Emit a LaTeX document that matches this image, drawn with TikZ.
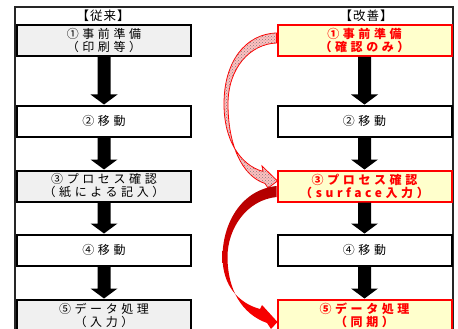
\documentclass[tikz,border=0pt]{standalone}
\usepackage{fontspec}
\setmainfont{Noto Sans CJK JP}
\newfontfamily\jp{Noto Sans CJK JP}[LetterSpace=30]
\newfontfamily\jph{Noto Sans CJK JP}[LetterSpace=8]
\usetikzlibrary{calc,patterns}
\pgfdeclarelayer{bg}
\pgfsetlayers{bg,main}
\definecolor{boxgray}{HTML}{F0F0F0}
\definecolor{boxyel}{HTML}{FFFFCC}
\definecolor{dred}{HTML}{B00000}
\newcommand\blockdown[2]{%
  \fill ($(#1.south)+(-6.5,0)$) -- ($(#2.north)+(-6.5,-10)$) -- ($(#2.north)+(-13.5,-10)$)
    -- (#2.north) -- ($(#2.north)+(13.5,-10)$) -- ($(#2.north)+(6.5,-10)$)
    -- ($(#1.south)+(6.5,0)$) -- cycle;}
\begin{document}
\begin{tikzpicture}[x=1pt,y=-1pt,
  box/.style={draw=black, line width=2pt, minimum width=174pt, minimum height=31pt,
    inner sep=0pt, align=center, font=\jp\fontsize{12}{13}\selectfont},
  oldbox/.style={box, fill=boxgray},
  plainbox/.style={box, fill=white},
  newbox/.style={box, draw=red, fill=boxyel, text=red,
    font=\jp\bfseries\fontsize{12}{13}\selectfont},
  hdr/.style={font=\jph\fontsize{12.5}{13}\selectfont, inner sep=0pt}]
\useasboundingbox (0,0) rectangle (458,329);

% headers
\node[hdr] (h1) at (103,16) {【従来】};
\node[hdr] (h2) at (366,16) {【改善】};

% left column
\node[oldbox]   (L1) at (104,40.5) {①事前準備\\（印刷等）};
\node[plainbox] (L2) at (104,121)  {②移動};
\node[oldbox]   (L3) at (104,186)  {③プロセス確認\\（紙による記入）};
\node[plainbox] (L4) at (104,250)  {④移動};
\node[oldbox]   (L5) at (104,315)  {⑤データ処理\\（入力）};

% right column
\node[newbox]   (R1) at (364.5,40.5) {①事前準備\\（確認のみ）};
\node[plainbox] (R2) at (364.5,121)  {②移動};
\node[newbox]   (R3) at (364.5,186)  {③プロセス確認\\（surface入力）};
\node[plainbox] (R4) at (364.5,250)  {④移動};
\node[newbox]   (R5) at (364.5,315)  {⑤データ処理\\（同期）};

% straight block arrows
\blockdown{L1}{L2}
\blockdown{L2}{L3}
\blockdown{L3}{L4}
\blockdown{L4}{L5}
\blockdown{R1}{R2}
\blockdown{R2}{R3}
\blockdown{R3}{R4}
\blockdown{R4}{R5}

\begin{pgfonlayer}{bg}
  % outer frame
  \draw[line width=1.2pt, black!85] (15,345) -- (15,7) -- (453,7) -- (453,345);
  % patterned curved arrow R1 -> R3
  \coordinate (a1) at ($(R1.west)+(0,-7.5)$);
  \coordinate (a2) at ($(R1.west)+(0,2.5)$);
  \coordinate (a3) at ($(R3.west)+(1,-5)$);
  \path[fill=red!25, draw=red, line width=0.8pt,
        postaction={pattern=crosshatch dots, pattern color=black!50}]
    (a1) .. controls (245,34) and (224,62) .. (224,104)
    .. controls (224,140) and (240,165) .. (263,171.5)
    -- (262,166) -- (a3) -- (268,188)
    -- (265,183.5) .. controls (242,176) and (228,145) .. (228,104)
    .. controls (228,68) and (250,44) .. (a2) -- cycle;
  % solid red curved arrow R3 -> R5
  \coordinate (b1) at ($(R3.west)+(0,0)$);
  \coordinate (b2) at ($(R3.west)+(0,11)$);
  \coordinate (b3) at ($(R5.west)+(1,7)$);
  \shade[top color=dred, middle color=red, bottom color=red]
    (b1) .. controls (240,190) and (222.5,225) .. (222.5,257)
    .. controls (222.5,285) and (238,303) .. (260,309)
    -- (262,305) -- (b3) -- (271,329)
    -- (267,323) .. controls (242,314) and (227.5,290) .. (227.5,257)
    .. controls (227.5,228) and (247,200) .. (b2) -- cycle;
\end{pgfonlayer}
\end{tikzpicture}
\end{document}
